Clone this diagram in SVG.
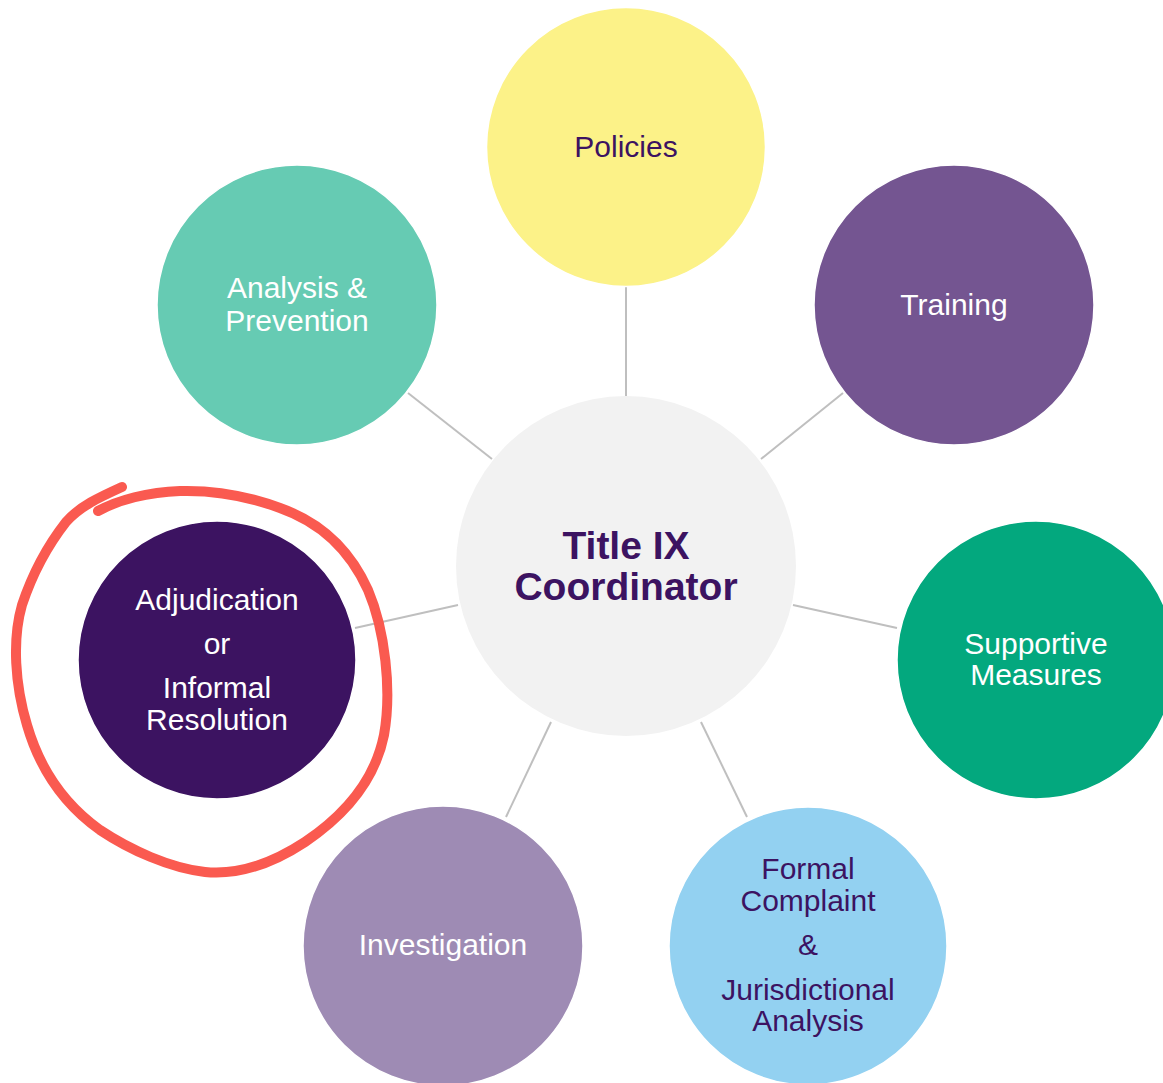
<svg xmlns="http://www.w3.org/2000/svg" width="1163" height="1083" viewBox="0 0 1163 1083">
<style>
.c{stroke:#FFFFFF;stroke-width:1.5}
.t{font-family:"Liberation Sans",Arial,sans-serif;font-size:30px;text-anchor:middle}
.w{fill:#FFFFFF}
.p{fill:#3C1361}
.b{font-family:"Liberation Sans",Arial,sans-serif;font-size:39px;font-weight:bold;text-anchor:middle;fill:#3C1361}
.ln{stroke:#BFBFBF;stroke-width:2;fill:none}
</style>
<rect width="1163" height="1083" fill="#FFFFFF"/>
<g id="connectors">
<line class="ln" x1="626" y1="287" x2="626" y2="396"/>
<line class="ln" x1="408" y1="393" x2="492" y2="459"/>
<line class="ln" x1="843" y1="393" x2="761" y2="459"/>
<line class="ln" x1="355" y1="628" x2="458" y2="605"/>
<line class="ln" x1="793" y1="605" x2="897" y2="628"/>
<line class="ln" x1="551" y1="722" x2="506" y2="817"/>
<line class="ln" x1="701" y1="722" x2="747" y2="817"/>
</g>
<g id="center">
<circle cx="626" cy="566" r="170" fill="#F2F2F2"/>
<text class="b" x="626" y="559">Title IX</text>
<text class="b" x="626" y="600">Coordinator</text>
</g>
<g id="policies">
<circle class="c" cx="626" cy="147" r="139.5" fill="#FCF288"/>
<text class="t p" x="626" y="157">Policies</text>
</g>
<g id="training">
<circle class="c" cx="954" cy="305" r="140" fill="#745591"/>
<text class="t w" x="954" y="315">Training</text>
</g>
<g id="analysis">
<circle class="c" cx="297" cy="305" r="140" fill="#66CBB3"/>
<text class="t w" x="297" y="298">Analysis &amp;</text>
<text class="t w" x="297" y="331">Prevention</text>
</g>
<g id="supportive">
<circle class="c" cx="1036" cy="660" r="139" fill="#03A87E"/>
<text class="t w" x="1036" y="654">Supportive</text>
<text class="t w" x="1036" y="685">Measures</text>
</g>
<g id="adjudication">
<circle class="c" cx="217" cy="660" r="139" fill="#3C1361"/>
<text class="t w" x="217" y="610">Adjudication</text>
<text class="t w" x="217" y="654">or</text>
<text class="t w" x="217" y="698">Informal</text>
<text class="t w" x="217" y="730">Resolution</text>
</g>
<g id="investigation">
<circle class="c" cx="443" cy="946" r="140" fill="#9E8BB4"/>
<text class="t w" x="443" y="955">Investigation</text>
</g>
<g id="formal">
<circle class="c" cx="808" cy="946" r="139" fill="#93D1F1"/>
<text class="t p" x="808" y="879">Formal</text>
<text class="t p" x="808" y="911">Complaint</text>
<text class="t p" x="808" y="955">&amp;</text>
<text class="t p" x="808" y="1000">Jurisdictional</text>
<text class="t p" x="808" y="1031">Analysis</text>
</g>
<g id="annotation">
<path d="M 98,511 C 118,500 148,492 180,491 C 215,490 245,495 280,508 C 320,522 350,550 368,590 C 385,630 392,690 384,735 C 375,780 345,815 305,842 C 270,865 235,875 205,872 C 170,868 130,850 100,830 C 65,805 40,770 27,725 C 15,685 12,640 22,605 C 32,575 48,545 66,522 C 80,506 100,497 122,487" fill="none" stroke="#FA5A50" stroke-width="10" stroke-linecap="round" stroke-linejoin="round"/>
</g>
</svg>
